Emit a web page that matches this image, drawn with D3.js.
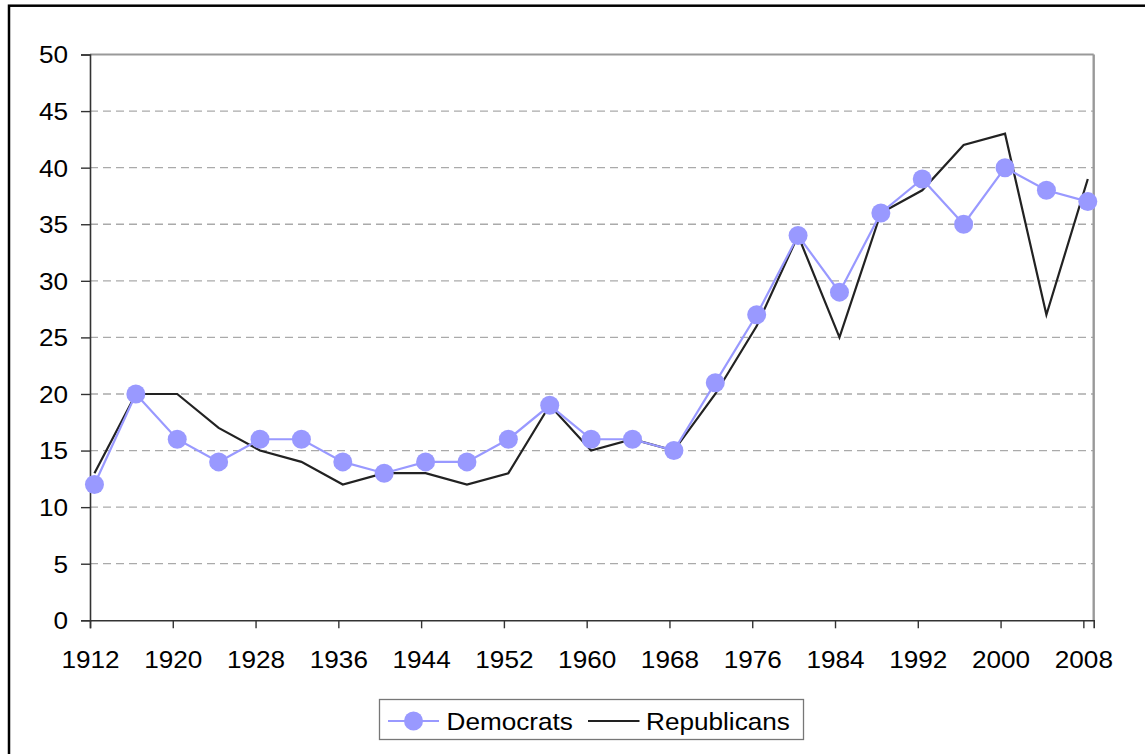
<!DOCTYPE html>
<html>
<head>
<meta charset="utf-8">
<script src="https://cdn.jsdelivr.net/npm/d3@7"></script>
<style>
  html, body { margin: 0; padding: 0; background: #fff; }
  svg { display: block; }
  text { font-family: "Liberation Sans", Arial, sans-serif; fill: #000; }
</style>
</head>
<body>
<svg id="chart" width="1145" height="754"></svg>
<script>
const years = [1912,1916,1920,1924,1928,1932,1936,1940,1944,1948,1952,1956,1960,1964,1968,1972,1976,1980,1984,1988,1992,1996,2000,2004,2008];
const democrats = [12,20,16,14,16,16,14,13,14,14,16,19,16,16,15,21,27,34,29,36,39,35,40,38,37];
const republicans = [13,20,20,17,15,14,12,13,13,12,13,19,15,16,15,20,26,34,25,36,38,42,43,27,39];
const xTicks = [1912,1920,1928,1936,1944,1952,1960,1968,1976,1984,1992,2000,2008];
const yTicks = [0,5,10,15,20,25,30,35,40,45,50];
const seriesNames = ["Democrats", "Republicans"];

(function () {
const svg = d3.select("#chart");
const W = 1145, H = 754;
const pLeft = 90, pRight = 1093.7, pTop = 54.5, pBottom = 620.3;
const pointOffset = 0.43; // points sit slightly right of the year ticks

const x = d3.scaleLinear().domain([1912, 2009]).range([pLeft, pRight]);
const y = d3.scaleLinear().domain([0, 50]).range([pBottom, pTop]);
const sx = 1.09, fs = 24;

// outer border
svg.append("rect").attr("x", 9).attr("y", 5.7).attr("width", W + 20).attr("height", H + 20)
  .attr("fill", "none").attr("stroke", "#000").attr("stroke-width", 2.5);

// gridlines
svg.append("g").selectAll("line").data(yTicks.filter(t => t > 0 && t < 50)).join("line")
  .attr("x1", pLeft).attr("x2", pRight)
  .attr("y1", d => y(d)).attr("y2", d => y(d))
  .attr("stroke", "#aaa").attr("stroke-width", 1.3).attr("stroke-dasharray", "8,5");

// top and right frame
svg.append("line").attr("x1", pLeft).attr("x2", pRight).attr("y1", pTop).attr("y2", pTop)
  .attr("stroke", "#999").attr("stroke-width", 2.2);
svg.append("line").attr("x1", pRight).attr("x2", pRight).attr("y1", pTop).attr("y2", pBottom)
  .attr("stroke", "#999").attr("stroke-width", 2.4);

// y axis
const yAxis = d3.axisLeft(y).tickValues(yTicks).tickSize(9).tickPadding(0).tickFormat(d3.format("d"));
const ya = svg.append("g").attr("transform", `translate(${pLeft},0)`).call(yAxis);
ya.select(".domain").attr("stroke", "#333").attr("stroke-width", 1.6);
ya.selectAll(".tick line").attr("stroke", "#333").attr("stroke-width", 1.4);
ya.selectAll(".tick text").remove();
ya.selectAll(".tick").append("text")
  .attr("transform", `translate(-22,0) scale(${sx},1)`)
  .attr("text-anchor", "end").attr("dy", "0.35em")
  .style("font-size", fs + "px").style("fill", "#000")
  .text(d => d);

// x axis
const xAxis = d3.axisBottom(x).tickValues(xTicks).tickSize(8).tickPadding(0).tickFormat(d3.format("d"));
const xa = svg.append("g").attr("transform", `translate(0,${pBottom})`).call(xAxis);
xa.select(".domain").attr("stroke", "#333").attr("stroke-width", 1.6);
xa.selectAll(".tick line").attr("stroke", "#333").attr("stroke-width", 1.4);
xa.selectAll(".tick text").remove();
xa.selectAll(".tick").append("text")
  .attr("transform", `translate(0,48) scale(${sx},1)`)
  .attr("text-anchor", "middle")
  .style("font-size", fs + "px").style("fill", "#000")
  .text(d => d);

// lines
const line = d3.line().x(d => x(d[0] + pointOffset)).y(d => y(d[1]));
const repData = years.map((yr, i) => [yr, republicans[i]]);
const demData = years.map((yr, i) => [yr, democrats[i]]);

svg.append("path").datum(repData).attr("d", line)
  .attr("fill", "none").attr("stroke", "#222").attr("stroke-width", 2.2);
svg.append("path").datum(demData).attr("d", line)
  .attr("fill", "none").attr("stroke", "#9999FF").attr("stroke-width", 2.2);
svg.append("g").selectAll("circle").data(demData).join("circle")
  .attr("cx", d => x(d[0] + pointOffset)).attr("cy", d => y(d[1])).attr("r", 9.5)
  .attr("fill", "#9999FF");

// legend
const lg = svg.append("g");
lg.append("rect").attr("x", 379.5).attr("y", 699.5).attr("width", 424).attr("height", 40)
  .attr("fill", "#fff").attr("stroke", "#777").attr("stroke-width", 1.3);
const ly = 721;
lg.append("line").attr("x1", 388).attr("x2", 439).attr("y1", ly).attr("y2", ly)
  .attr("stroke", "#9999FF").attr("stroke-width", 2.2);
lg.append("circle").attr("cx", 413.5).attr("cy", ly).attr("r", 9.5).attr("fill", "#9999FF");
lg.append("text").attr("transform", `translate(446.5,729.5) scale(${sx},1)`)
  .style("font-size", fs + "px").text(seriesNames[0]);
lg.append("line").attr("x1", 588).attr("x2", 639.5).attr("y1", ly).attr("y2", ly)
  .attr("stroke", "#222").attr("stroke-width", 2.2);
lg.append("text").attr("transform", `translate(646,729.5) scale(${sx},1)`)
  .style("font-size", fs + "px").text(seriesNames[1]);
})();
</script>
</body>
</html>
